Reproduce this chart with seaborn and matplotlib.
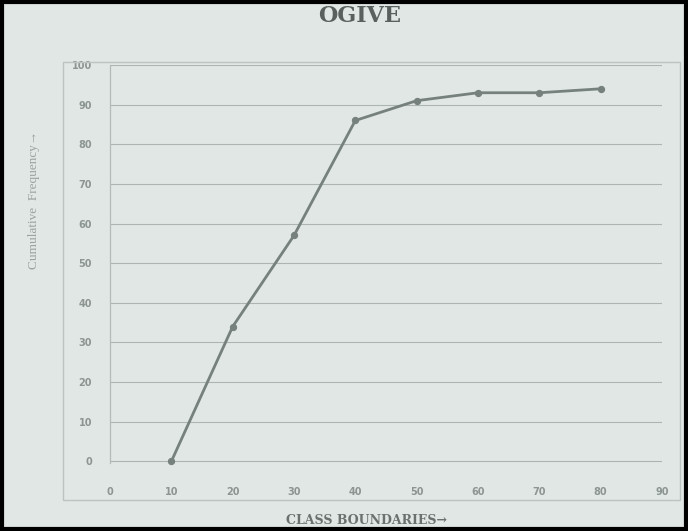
import matplotlib
matplotlib.use("Agg")
import matplotlib.pyplot as plt
import seaborn as sns
import pandas as pd
from matplotlib.patches import Rectangle

# Ogive data
class_boundaries = [10, 20, 30, 40, 50, 60, 70, 80]
cumulative_freq = [0, 34, 57, 86, 91, 93, 93, 94]
x_ticks = [0, 10, 20, 30, 40, 50, 60, 70, 80, 90]
y_ticks = [0, 10, 20, 30, 40, 50, 60, 70, 80, 90, 100]

df = pd.DataFrame({"boundary": class_boundaries, "cf": cumulative_freq})

bg = "#e1e7e5"
sns.set_style("white")
plt.rcParams["font.family"] = ["DejaVu Sans"]

fig = plt.figure(figsize=(6.88, 5.31), dpi=100, facecolor=bg)
W, H = 688, 531

# outer chart frame
fig.patches.append(Rectangle((63 / W, 1 - 500 / H), (680 - 63) / W, (500 - 62) / H,
                             transform=fig.transFigure, fill=False,
                             edgecolor="#bcc3c0", linewidth=1.0))
# black border of the screenshot
fig.patches.append(Rectangle((2 / W, 2 / H), (W - 4) / W, (H - 4) / H,
                             transform=fig.transFigure, fill=False,
                             edgecolor="black", linewidth=3))

ax = fig.add_axes([110 / W, 1 - 463 / H, (662 - 110) / W, (463 - 65) / H])
ax.set_facecolor(bg)

sns.lineplot(data=df, x="boundary", y="cf", ax=ax, color="#76817d",
             linewidth=2, marker="o", markersize=4.5, clip_on=False,
             markeredgecolor="#76817d", markerfacecolor="#76817d")

ax.set_xlim(0, 90)
ax.set_ylim(-0.4, 100)
ax.set_xticks(x_ticks)
ax.set_yticks(y_ticks)
ax.set_xticklabels([str(t) for t in x_ticks], fontsize=7, fontweight="bold", color="#8c9591")
ax.set_yticklabels([str(t) for t in y_ticks], fontsize=7, fontweight="bold", color="#8c9591")
ax.tick_params(axis="x", length=0, pad=17)
ax.tick_params(axis="y", length=0, pad=13)

ax.grid(axis="y", color="#adb5b2", linewidth=0.8)
ax.grid(axis="x", visible=False)
for side in ["top", "right", "bottom"]:
    ax.spines[side].set_visible(False)
ax.spines["left"].set_color("#b3bbb8")
ax.spines["left"].set_linewidth(0.9)

ax.set_xlabel("")
ax.set_ylabel("")

fig.text(360 / W, 1 - 16 / H, "OGIVE", ha="center", va="center",
         family="DejaVu Serif", fontsize=16, fontweight="bold", color="#5a605d")
fig.text(367 / W, 1 - 520 / H, "CLASS BOUNDARIES\u2192", ha="center", va="center",
         family="DejaVu Serif", fontsize=9, fontweight="bold", color="#6b716e")
fig.text(34 / W, 1 - 200 / H, "Cumulative  Frequency\u2192", ha="center", va="center",
         rotation=90, family="Liberation Serif", fontsize=9.5, color="#9aa39f")

fig.savefig("out.png", dpi=100, facecolor=bg)
